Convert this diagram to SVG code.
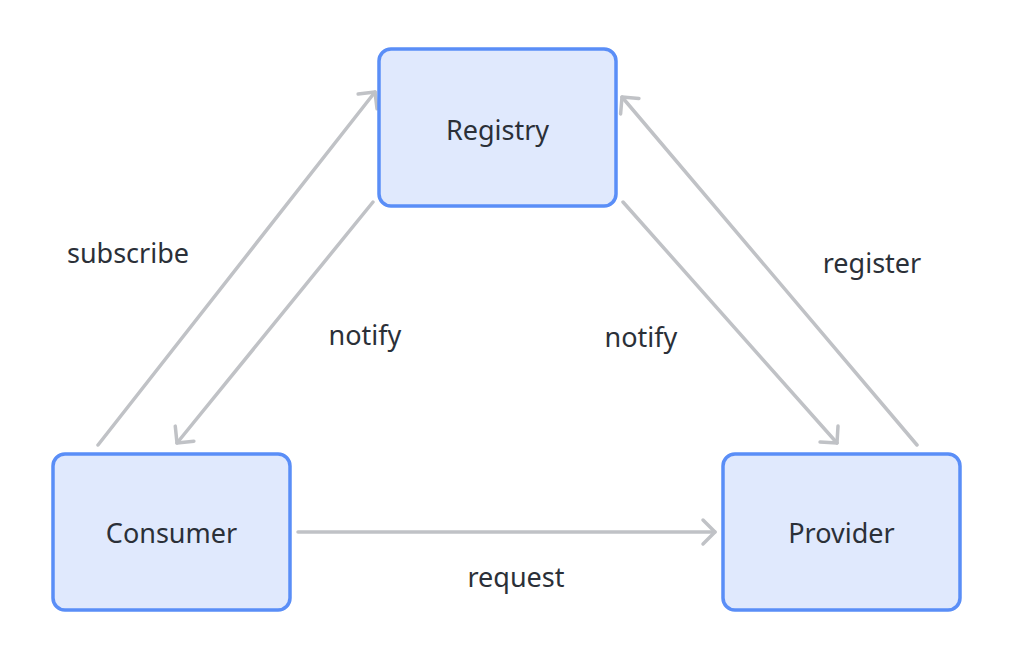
<svg xmlns="http://www.w3.org/2000/svg" width="1010" height="660" viewBox="0 0 1010 660">
<style>
.node rect{fill:#e0e9fd;stroke:#5a8ef7;stroke-width:3.5}
text{font-family:"Noto Sans","Open Sans",sans-serif;font-size:27px;fill:#2b3038;text-anchor:middle}
.edge{stroke:#c0c2c6;stroke-width:3.5;fill:none;stroke-linecap:round;marker-end:url(#arr)}
</style>
<defs>
<marker id="arr" markerUnits="userSpaceOnUse" markerWidth="30" markerHeight="30" viewBox="-16 -15 20 30" refX="0" refY="0" orient="auto">
<path d="M-12,-12 L0,0 L-12,12" fill="none" stroke="#c0c2c6" stroke-width="3.5" stroke-linecap="round" stroke-linejoin="round"/>
</marker>
</defs>
<rect width="1010" height="660" fill="#ffffff"/>
<g id="connectors">
<line class="edge" x1="98" y1="445" x2="375" y2="92"/>
<line class="edge" x1="373" y1="202" x2="177" y2="443"/>
<line class="edge" x1="623" y1="202" x2="837" y2="443"/>
<line class="edge" x1="917" y1="445" x2="622" y2="97"/>
<line class="edge" x1="298" y1="532" x2="715" y2="532"/>
<text x="128" y="263">subscribe</text>
<text x="365" y="345">notify</text>
<text x="641" y="347">notify</text>
<text x="872" y="273">register</text>
<text x="516" y="587">request</text>
</g>
<g id="registry" class="node">
<rect x="379" y="49" width="237" height="157" rx="12"/>
<text x="497.5" y="140">Registry</text>
</g>
<g id="consumer" class="node">
<rect x="53" y="454" width="237" height="156" rx="12"/>
<text x="171.5" y="543">Consumer</text>
</g>
<g id="provider" class="node">
<rect x="723" y="454" width="237" height="156" rx="12"/>
<text x="841.5" y="543">Provider</text>
</g>
</svg>
